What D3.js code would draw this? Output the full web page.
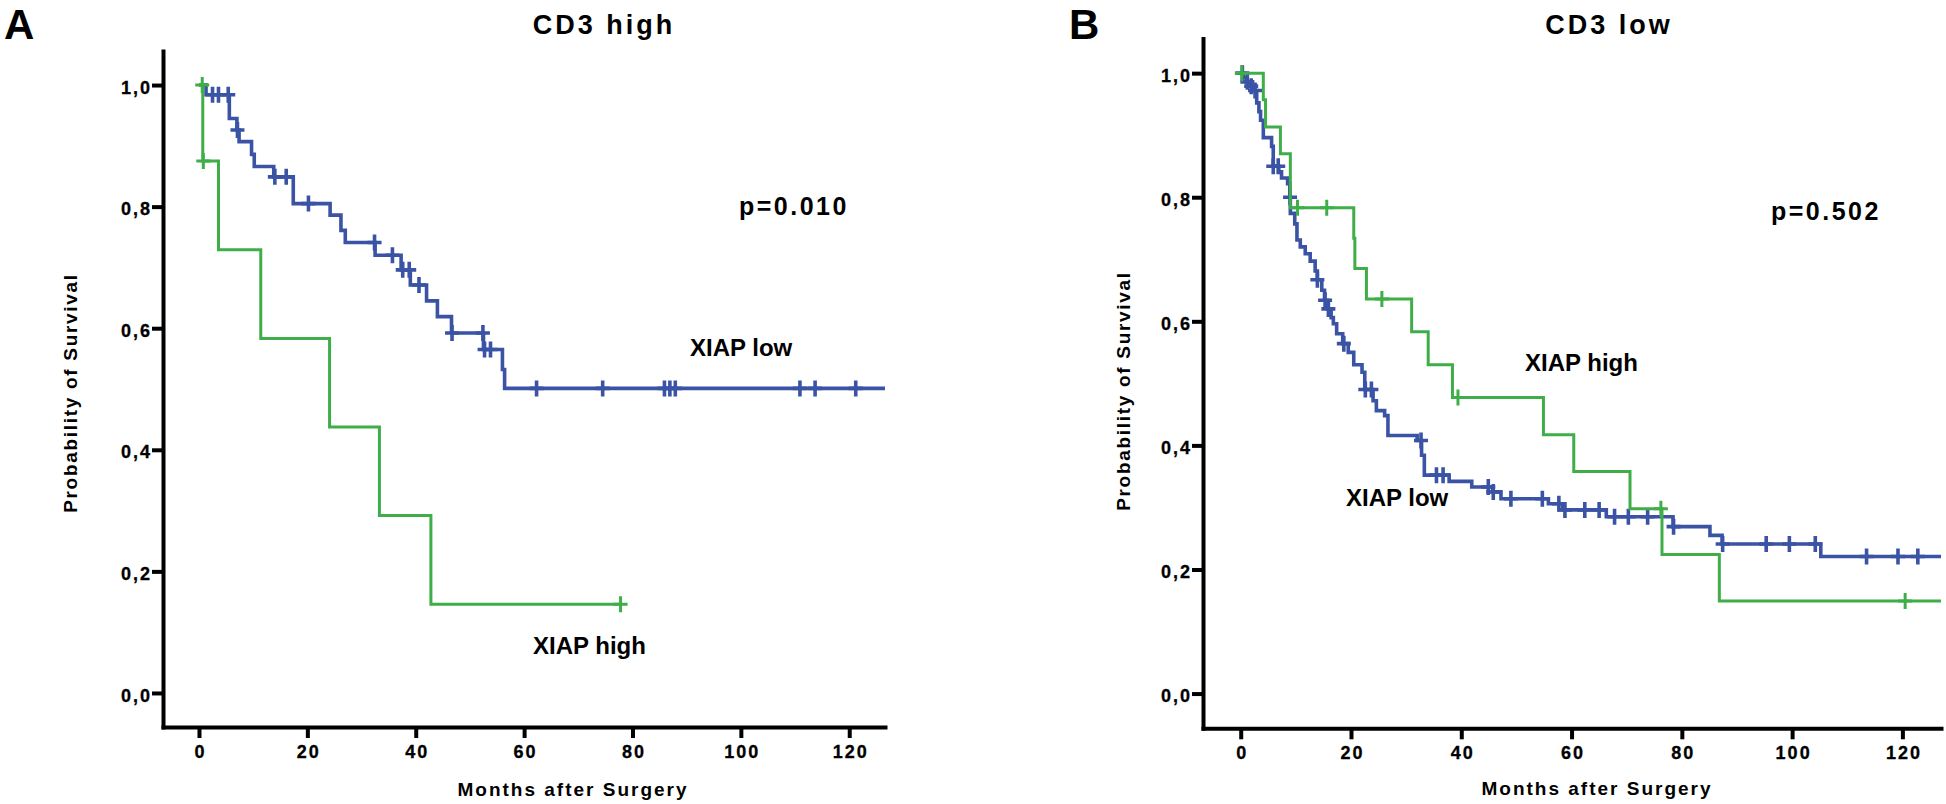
<!DOCTYPE html>
<html><head><meta charset="utf-8">
<script src="https://cdn.jsdelivr.net/npm/d3@7"></script>
<style>
body{margin:0;background:#fff;}
text{font-family:"Liberation Sans",Arial,Helvetica,sans-serif;font-weight:bold;fill:#000;}
</style>
</head><body>
<svg id="chart" width="1946" height="804"></svg>
<script>
// ---------- data ----------
const xTicks = [0, 20, 40, 60, 80, 100, 120];
const yTicks = [0, 0.2, 0.4, 0.6, 0.8, 1.0];
const yTickLabels = ["0,0", "0,2", "0,4", "0,6", "0,8", "1,0"];
const panelTitles = ["CD3 high", "CD3 low"];
const panelLetters = ["A", "B"];
const pValues = ["p=0.010", "p=0.502"];
const seriesNames = ["XIAP low", "XIAP high"];
const xTitle = "Months after Surgery";
const yTitle = "Probability of Survival";

// Panel A (CD3 high) - XIAP low
const aLowTimes = [1.3, 5.6, 7.0, 7.4, 9.7, 10.2, 13.8, 17.4, 24.2, 26.2, 27.0, 32.5, 37.3, 39.0, 42.0, 44.0, 46.6, 52.5, 56.0, 56.4];
const aLowSurv  = [0.984, 0.945, 0.926, 0.907, 0.886, 0.866, 0.849, 0.805, 0.786, 0.761, 0.741, 0.720, 0.696, 0.671, 0.645, 0.619, 0.592, 0.565, 0.532, 0.501];
const aLowCensor = [2.5, 3.6, 5.4, 7.1, 14.0, 16.1, 20.2, 32.4, 35.7, 37.6, 38.8, 40.6, 46.7, 52.4, 52.7, 53.8, 62.3, 74.5, 85.9, 86.9, 87.9, 110.9, 113.7, 121.2];
// Panel A - XIAP high
const aHighTimes = [0.7, 3.6, 11.4, 24.1, 33.3, 42.8];
const aHighSurv  = [0.875, 0.729, 0.583, 0.4375, 0.292, 0.146];
const aHighCensor = [0.6, 0.8, 77.8];
const aHighEnd = 77.8;

// Panel B (CD3 low) - XIAP low
const bLowTimes = [0.5, 1.0, 1.6, 2.2, 2.9, 3.3, 3.6, 4.1, 5.6, 5.9, 6.9, 7.4, 8.5, 8.9, 9.0, 9.8, 10.2, 10.8, 11.7, 12.6, 13.5, 13.9, 14.7, 15.2, 15.8, 16.4, 16.8, 17.4, 18.5, 19.5, 20.5, 22.0, 22.5, 24.0, 24.6, 26.1, 26.7, 32.0, 32.8, 33.3, 37.8, 41.9, 45.7, 47.2, 55.8, 58.4, 66.3, 78.4, 85.1, 87.3, 105.2];
const bLowSurv  = [0.993, 0.986, 0.979, 0.972, 0.952, 0.938, 0.924, 0.896, 0.882, 0.850, 0.841, 0.831, 0.822, 0.800, 0.774, 0.757, 0.731, 0.720, 0.709, 0.697, 0.681, 0.667, 0.650, 0.634, 0.620, 0.606, 0.596, 0.580, 0.564, 0.550, 0.530, 0.518, 0.490, 0.472, 0.456, 0.448, 0.416, 0.408, 0.384, 0.352, 0.342, 0.333, 0.325, 0.314, 0.306, 0.296, 0.285, 0.269, 0.255, 0.241, 0.221];
const bLowCensor = [0.3, 1.2, 1.9, 2.6, 5.9, 6.8, 8.95, 13.9, 15.3, 15.9, 18.7, 22.6, 23.7, 32.7, 35.5, 36.7, 44.9, 45.8, 49.0, 54.7, 57.7, 58.8, 62.4, 65.0, 67.8, 70.3, 73.8, 78.5, 87.4, 95.3, 99.5, 104.2, 113.5, 119.2, 122.8];
// Panel B - XIAP high
const bHighTimes = [4.1, 4.5, 7.2, 9.0, 20.5, 20.7, 22.8, 31.0, 34.0, 38.4, 54.9, 60.4, 70.6, 76.4, 86.8];
const bHighSurv  = [0.957, 0.913, 0.870, 0.783, 0.734, 0.685, 0.636, 0.583, 0.530, 0.477, 0.417, 0.358, 0.298, 0.224, 0.149];
const bHighCensor = [0.2, 10.3, 15.6, 25.6, 39.4, 76.2, 120.5];

// ---------- layout / style ----------
const BLUE = "#3a53a4", GREEN = "#3fae49";
const svg = d3.select("#chart");

const panels = [
  {
    xDomain: [-6.64, 126.6], xRange: [163, 885], yRange: [727, 51],
    title: [604, 34], letter: [4, 39], p: [739, 215], ylab: [70, 393], xlab: [573, 796],
    series: [
      {times: aLowTimes, surv: aLowSurv, censor: aLowCensor, end: null, color: BLUE, width: 3.6},
      {times: aHighTimes, surv: aHighSurv, censor: aHighCensor, end: aHighEnd, color: GREEN, width: 3}
    ],
    labels: [[690, 356], [533, 654]]
  },
  {
    xDomain: [-6.84, 127.0], xRange: [1203, 1941], yRange: [728.3, 38.4],
    title: [1609, 34], letter: [1069, 39], p: [1771, 220], ylab: [1123, 391], xlab: [1597, 795],
    series: [
      {times: bLowTimes, surv: bLowSurv, censor: bLowCensor, end: null, color: BLUE, width: 3.6},
      {times: bHighTimes, surv: bHighSurv, censor: bHighCensor, end: null, color: GREEN, width: 3}
    ],
    labels: [[1346, 506], [1525, 371]]
  }
];

function survAt(times, surv, t) {
  let v = 1;
  for (let i = 0; i < times.length; i++) if (times[i] <= t) v = surv[i];
  return v;
}

panels.forEach((P, pi) => {
  const x = d3.scaleLinear().domain(P.xDomain).range(P.xRange);
  const y = d3.scaleLinear().domain([-0.056, 1.056]).range(P.yRange);
  const g = svg.append("g");

  // axes
  const yAxis = d3.axisLeft(y).tickValues(yTicks)
    .tickFormat((d, i) => yTickLabels[i]).tickSize(11).tickSizeOuter(0).tickPadding(0);
  const gy = g.append("g").attr("transform", `translate(${P.xRange[0]},0)`).call(yAxis);
  const xAxis = d3.axisBottom(x).tickValues(xTicks).tickSize(11).tickSizeOuter(0).tickPadding(7);
  const gx = g.append("g").attr("transform", `translate(0,${P.yRange[0]})`).call(xAxis);

  [gx, gy].forEach(ax => {
    ax.select(".domain").attr("stroke", "#000").attr("stroke-width", 4).attr("stroke-linecap", "square");
    ax.selectAll(".tick line").attr("stroke", "#000").attr("stroke-width", 4);
    ax.selectAll(".tick text").attr("font-size", 18).attr("font-weight", "bold")
      .attr("font-family", '"Liberation Sans",Arial,sans-serif').attr("fill", "#000")
      .attr("stroke", "#000").attr("stroke-width", 0.3)
      .style("letter-spacing", "2px");
  });
  gy.selectAll(".tick text").attr("dy", "0.45em");
  gx.selectAll(".tick text").attr("dx", "1");

  // curves
  const line = d3.line().x(d => x(d[0])).y(d => y(d[1])).curve(d3.curveStepAfter);
  P.series.forEach(s => {
    const endT = s.end == null ? P.xDomain[1] : s.end;
    const pts = [[0, 1]];
    s.times.forEach((t, i) => pts.push([t, s.surv[i]]));
    pts.push([endT, s.surv[s.surv.length - 1]]);
    g.append("path").attr("d", line(pts)).attr("fill", "none")
      .attr("stroke", s.color).attr("stroke-width", s.width).attr("stroke-linejoin", "miter");
    g.append("g").selectAll("path").data(s.censor).join("path")
      .attr("d", t => {
        const cx = x(t), cy = y(survAt(s.times, s.surv, t));
        return `M${cx - 7},${cy}H${cx + 7}M${cx},${cy - 8}V${cy + 8}`;
      })
      .attr("stroke", s.color).attr("stroke-width", s.width).attr("fill", "none");
  });

  // texts
  g.append("text").attr("x", P.title[0]).attr("y", P.title[1]).attr("text-anchor", "middle")
    .attr("font-size", 27).style("letter-spacing", "3px").text(panelTitles[pi]);
  g.append("text").attr("x", P.letter[0]).attr("y", P.letter[1])
    .attr("font-size", 42).text(panelLetters[pi]);
  g.append("text").attr("x", P.p[0]).attr("y", P.p[1])
    .attr("font-size", 25).style("letter-spacing", "2.5px").text(pValues[pi]);
  g.append("text").attr("transform", `translate(${P.ylab[0]},${P.ylab[1]}) rotate(-90)`)
    .attr("text-anchor", "middle").attr("dy", "0.35em")
    .attr("font-size", 19).style("letter-spacing", "1.7px").text(yTitle);
  g.append("text").attr("x", P.xlab[0]).attr("y", P.xlab[1]).attr("text-anchor", "middle")
    .attr("font-size", 19).style("letter-spacing", "2px").text(xTitle);
  P.labels.forEach((L, li) => {
    g.append("text").attr("x", L[0]).attr("y", L[1]).attr("font-size", 24).text(seriesNames[li]);
  });
});
</script>
</body></html>
